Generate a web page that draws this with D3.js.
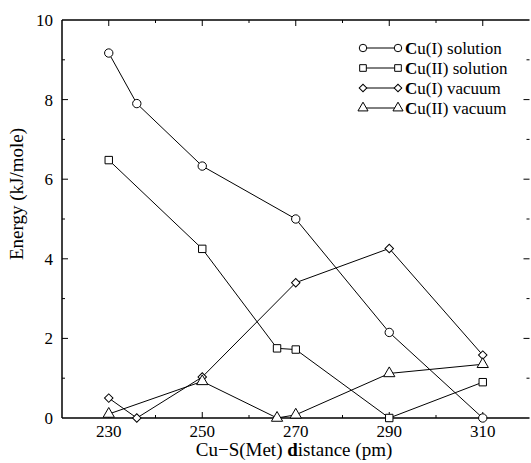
<!DOCTYPE html>
<html>
<head>
<meta charset="utf-8">
<script src="https://cdn.jsdelivr.net/npm/d3@7"></script>
<style>
  body { margin: 0; background: #fff; }
</style>
</head>
<body>
<svg id="chart" font-family="'Liberation Serif', Tinos, 'Nimbus Roman', 'DejaVu Serif', serif"></svg>
<script>
// values
const distanceCu1 = [230, 236, 250, 270, 290, 310];
const distanceCu2 = [230, 250, 266, 270, 290, 310];
const cu1Solution = [9.17, 7.9, 6.33, 5.0, 2.15, 0.0];
const cu2Solution = [6.48, 4.25, 1.75, 1.72, 0.0, 0.9];
const cu1Vacuum = [0.5, 0.0, 1.03, 3.4, 4.26, 1.58];
const cu2Vacuum = [0.1, 0.92, 0.0, 0.08, 1.12, 1.35];
const xTicks = [230, 250, 270, 290, 310];
const yTicks = [0, 2, 4, 6, 8, 10];

const series = [
  { name: "u(I) solution", x: distanceCu1, y: cu1Solution, symbol: d3.symbolCircle, size: 55, rot: 0 },
  { name: "u(II) solution", x: distanceCu2, y: cu2Solution, symbol: d3.symbolSquare, size: 55, rot: 0 },
  { name: "u(I) vacuum", x: distanceCu1, y: cu1Vacuum, symbol: d3.symbolSquare, size: 36, rot: 45 },
  { name: "u(II) vacuum", x: distanceCu2, y: cu2Vacuum, symbol: d3.symbolTriangle, size: 55, rot: 0 },
];

const width = 531, height = 463;
const margin = { top: 20, right: 1.5, bottom: 45, left: 62 };

const svg = d3.select("#chart").attr("width", width).attr("height", height);

const x = d3.scaleLinear().domain([220, 320]).range([margin.left, width - margin.right]);
const y = d3.scaleLinear().domain([0, 10]).range([height - margin.bottom, margin.top]);

const minorX = d3.range(220, 321, 10);
const minorY = d3.range(0, 10.1, 1);

// frame lines
svg.append("line")
  .attr("x1", x(220)).attr("x2", x(320)).attr("y1", y(0)).attr("y2", y(0))
  .attr("stroke", "#000").attr("stroke-width", 1.5);
svg.append("line")
  .attr("x1", x(220)).attr("x2", x(320)).attr("y1", y(10)).attr("y2", y(10))
  .attr("stroke", "#000").attr("stroke-width", 1.5);
svg.append("line")
  .attr("x1", x(220)).attr("x2", x(220)).attr("y1", y(0)).attr("y2", y(10))
  .attr("stroke", "#000").attr("stroke-width", 1.5);

// ticks (pointing inward)
const ticks = svg.append("g").attr("stroke", "#000").attr("stroke-width", 1);
minorX.filter(d => d > 220 && d < 320).forEach(d => {
  const len = xTicks.includes(d) ? 6 : 3;
  ticks.append("line").attr("x1", x(d)).attr("x2", x(d)).attr("y1", y(0)).attr("y2", y(0) - len);
  ticks.append("line").attr("x1", x(d)).attr("x2", x(d)).attr("y1", y(10)).attr("y2", y(10) + len);
});
minorY.filter(d => d > 0 && d < 10).forEach(d => {
  const len = yTicks.includes(d) ? 6 : 3;
  ticks.append("line").attr("x1", x(220)).attr("x2", x(220) + len).attr("y1", y(d)).attr("y2", y(d));
  ticks.append("line").attr("x1", x(320)).attr("x2", x(320) - len).attr("y1", y(d)).attr("y2", y(d));
});

// tick labels
svg.append("g").selectAll("text").data(xTicks).join("text")
  .attr("x", d => x(d)).attr("y", 437)
  .attr("text-anchor", "middle").attr("font-size", 17)
  .text(d => d);
svg.append("g").selectAll("text").data(yTicks).join("text")
  .attr("x", 53).attr("y", d => y(d)).attr("dy", "0.35em")
  .attr("text-anchor", "end").attr("font-size", 17)
  .text(d => d);

// axis titles
const xTitle = svg.append("text")
  .attr("x", 294).attr("y", 456).attr("text-anchor", "middle").attr("font-size", 19);
xTitle.append("tspan").text("Cu\u2212S(Met) ");
xTitle.append("tspan").attr("font-weight", "bold").text("d");
xTitle.append("tspan").text("istance (pm)");

svg.append("text")
  .attr("transform", "translate(23,194) rotate(-90)")
  .attr("text-anchor", "middle").attr("font-size", 19)
  .text("Energy (kJ/mole)");

// series
const line = d3.line().x(d => x(d[0])).y(d => y(d[1]));
series.forEach(s => {
  const pts = s.x.map((d, i) => [d, s.y[i]]);
  svg.append("path")
    .attr("d", line(pts))
    .attr("fill", "none").attr("stroke", "#000").attr("stroke-width", 1);
  svg.append("g").selectAll("path").data(pts).join("path")
    .attr("transform", d => `translate(${x(d[0])},${y(d[1])}) rotate(${s.rot})`)
    .attr("d", d3.symbol().type(s.symbol).size(s.size))
    .attr("fill", "#fff").attr("stroke", "#000").attr("stroke-width", 1);
});

// legend
const legend = svg.append("g");
series.forEach((s, i) => {
  const ly = 48 + i * 20;
  legend.append("line").attr("x1", 363).attr("x2", 398).attr("y1", ly).attr("y2", ly)
    .attr("stroke", "#000").attr("stroke-width", 1);
  [363, 398].forEach(lx => {
    legend.append("path")
      .attr("transform", `translate(${lx},${ly}) rotate(${s.rot})`)
      .attr("d", d3.symbol().type(s.symbol).size(s.size * 0.8))
      .attr("fill", "#fff").attr("stroke", "#000").attr("stroke-width", 1);
  });
  const t = legend.append("text").attr("x", 405).attr("y", ly).attr("dy", "0.35em").attr("font-size", 17);
  t.append("tspan").attr("font-weight", "bold").text("C");
  t.append("tspan").text(s.name);
});
</script>
</body>
</html>
